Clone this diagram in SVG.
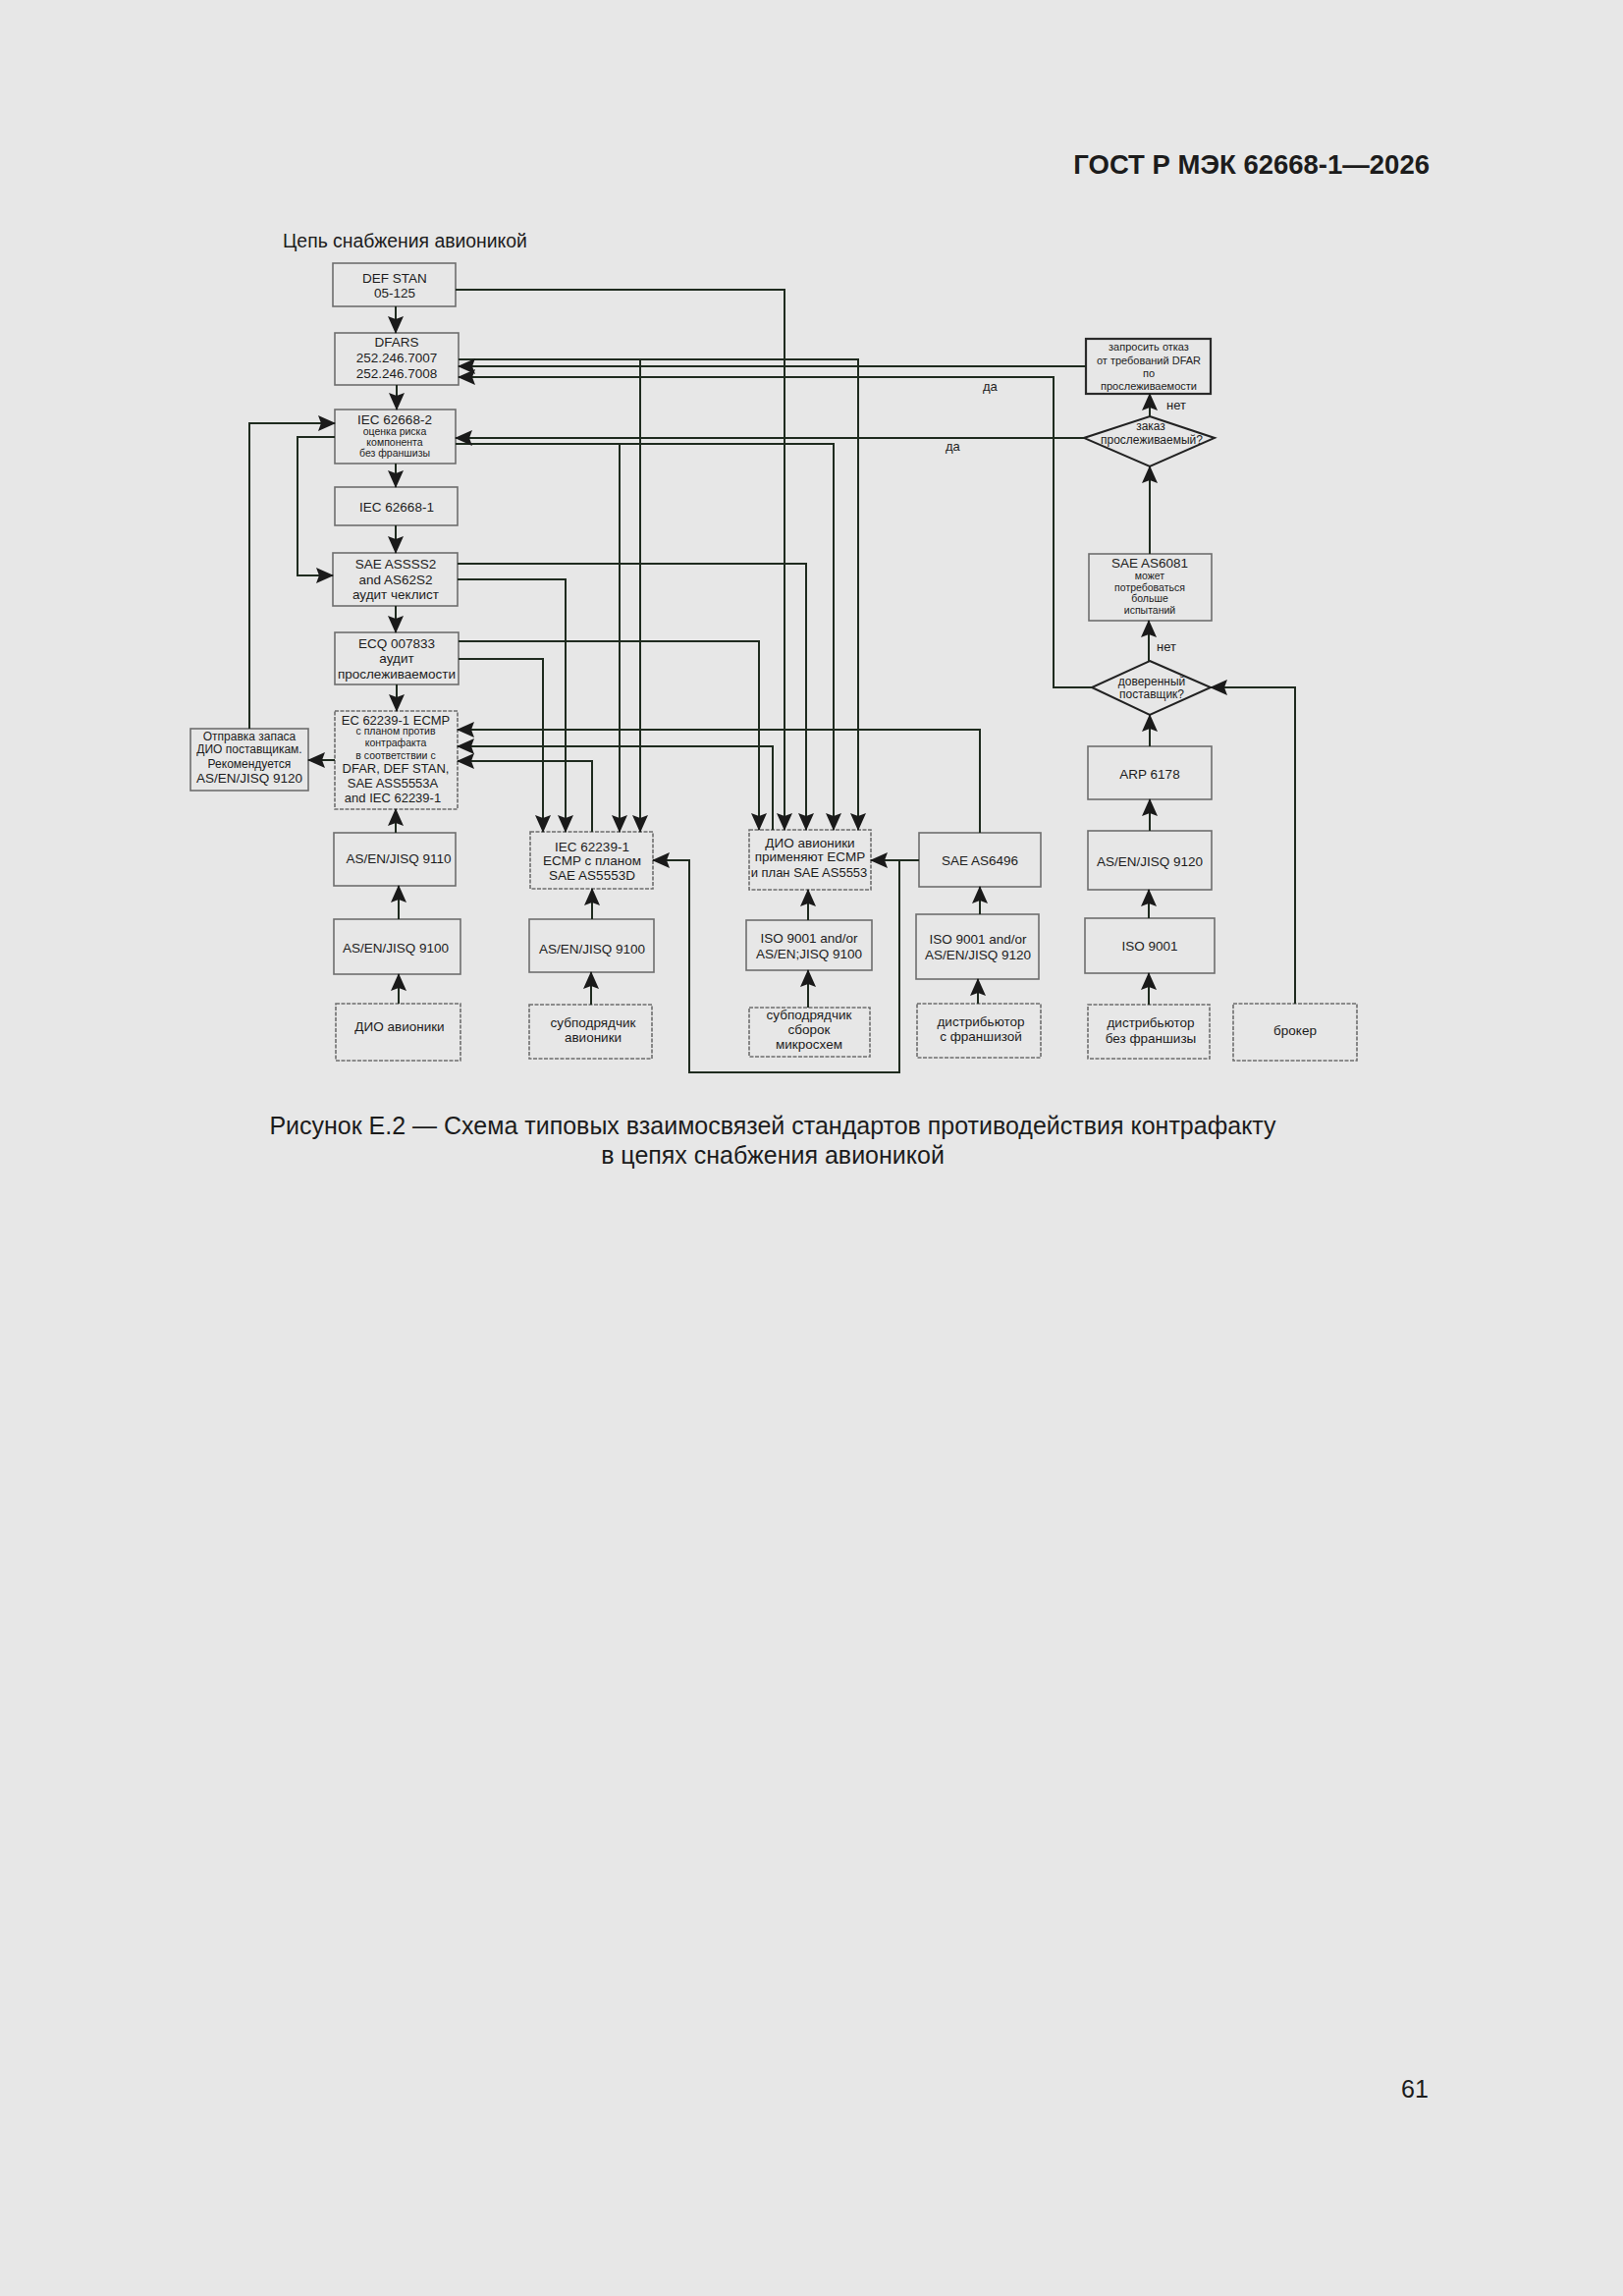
<svg xmlns="http://www.w3.org/2000/svg" width="1653" height="2338" viewBox="0 0 1653 2338">
<defs>
<marker id="ah" markerUnits="userSpaceOnUse" viewBox="0 0 18 16" markerWidth="18" markerHeight="16" refX="17" refY="8" orient="auto">
<path d="M0,0 L18,8 L0,16 L3,8 z" fill="#1a1a1a"/>
</marker>
<style>
.bx{fill:none;stroke:#6e6e6e;stroke-width:1.6}
.dt{fill:none;stroke:#6e6e6e;stroke-width:1.6;stroke-dasharray:4 1.5}
.bd{fill:none;stroke:#2a2a2a;stroke-width:2.2}
.dm{fill:none;stroke:#222;stroke-width:2}
.c path{fill:none;stroke:#1f2b1f;stroke-width:2;marker-end:url(#ah)}
.c path.n{marker-end:none}
text{font-family:"Liberation Sans",Arial,"Noto Sans",sans-serif;fill:#1c1c1c;text-anchor:middle}
.m{font-size:13.5px}
.s{font-size:10.5px}
.t{font-size:11px}
.d{font-size:12px}
.l{font-size:13px;text-anchor:start}
</style>
</defs>
<rect x="0" y="0" width="1653" height="2338" fill="#e7e7e7"/>

<text x="1456" y="177" style="font-size:27.5px;font-weight:bold;text-anchor:end">ГОСТ Р МЭК 62668-1—2026</text>
<text x="288" y="252" style="font-size:19.4px;text-anchor:start">Цепь снабжения авионикой</text>

<g id="n-defstan"><rect class="bx" x="339" y="268" width="125" height="44"/><text class="m" x="402" y="288">DEF STAN</text><text class="m" x="402" y="303">05-125</text></g>
<g id="n-dfars"><rect class="bx" x="341" y="339" width="126" height="53"/><text class="m" x="404" y="353">DFARS</text><text class="m" x="404" y="369">252.246.7007</text><text class="m" x="404" y="385">252.246.7008</text></g>
<g id="n-iec626682"><rect class="bx" x="341" y="417" width="123" height="55"/><text class="m" x="402" y="432">IEC 62668-2</text><text class="s" x="402" y="443">оценка риска</text><text class="s" x="402" y="454">компонента</text><text class="s" x="402" y="465">без франшизы</text></g>
<g id="n-iec626681"><rect class="bx" x="341" y="496" width="125" height="39"/><text class="m" x="404" y="521">IEC 62668-1</text></g>
<g id="n-sae"><rect class="bx" x="339" y="563" width="127" height="54"/><text class="m" x="403" y="579">SAE ASSSS2</text><text class="m" x="403" y="595">and AS62S2</text><text class="m" x="403" y="610">аудит чеклист</text></g>
<g id="n-ecq"><rect class="bx" x="341" y="644" width="126" height="53"/><text class="m" x="404" y="660">ECQ 007833</text><text class="m" x="404" y="675">аудит</text><text class="m" x="404" y="691">прослеживаемости</text></g>
<g id="n-ec62239"><rect class="dt" x="341" y="724" width="125" height="100"/><text class="m" x="403" y="738" style="font-size:13px">EC 62239-1 ECMP</text><text class="s" x="403" y="748">с планом против</text><text class="s" x="403" y="760">контрафакта</text><text class="s" x="403" y="773">в соответствии с</text><text class="m" x="403" y="787" style="font-size:13px">DFAR, DEF STAN,</text><text class="m" x="400" y="802" style="font-size:13px">SAE ASS5553A</text><text class="m" x="400" y="817" style="font-size:13px">and IEC 62239-1</text></g>
<g id="n-otpravka"><rect class="bx" x="194" y="742" width="120" height="63"/><text class="d" x="254" y="754">Отправка запаса</text><text class="d" x="254" y="767">ДИО поставщикам.</text><text class="d" x="254" y="782">Рекомендуется</text><text class="m" x="254" y="797">AS/EN/JISQ 9120</text></g>
<g id="n-9110"><rect class="bx" x="340" y="848" width="124" height="54"/><text class="m" x="406" y="879">AS/EN/JISQ 9110</text></g>
<g id="n-9100a"><rect class="bx" x="340" y="936" width="129" height="56"/><text class="m" x="403" y="970">AS/EN/JISQ 9100</text></g>
<g id="n-dio-bottom"><rect class="dt" x="342" y="1022" width="127" height="58"/><text class="m" x="407" y="1050">ДИО авионики</text></g>
<g id="n-iec622391"><rect class="dt" x="540" y="847" width="125" height="58"/><text class="m" x="603" y="867">IEC 62239-1</text><text class="m" x="603" y="881">ECMP с планом</text><text class="m" x="603" y="896">SAE AS5553D</text></g>
<g id="n-9100b"><rect class="bx" x="539" y="936" width="127" height="54"/><text class="m" x="603" y="971">AS/EN/JISQ 9100</text></g>
<g id="n-subav"><rect class="dt" x="539" y="1023" width="125" height="55"/><text class="m" x="604" y="1046">субподрядчик</text><text class="m" x="604" y="1061">авионики</text></g>
<g id="n-dio-ecmp"><rect class="dt" x="763" y="845" width="124" height="61"/><text class="m" x="825" y="863">ДИО авионики</text><text class="m" x="825" y="877">применяют ECMP</text><text class="m" x="824" y="893" style="font-size:13px">и план SAE AS5553</text></g>
<g id="n-iso9100"><rect class="bx" x="760" y="937" width="128" height="51"/><text class="m" x="824" y="960">ISO 9001 and/or</text><text class="m" x="824" y="976">AS/EN;JISQ 9100</text></g>
<g id="n-submc"><rect class="dt" x="763" y="1026" width="123" height="50"/><text class="m" x="824" y="1038">субподрядчик</text><text class="m" x="824" y="1053">сборок</text><text class="m" x="824" y="1068">микросхем</text></g>
<g id="n-as6496"><rect class="bx" x="936" y="848" width="124" height="55"/><text class="m" x="998" y="881">SAE AS6496</text></g>
<g id="n-iso9120"><rect class="bx" x="933" y="931" width="125" height="66"/><text class="m" x="996" y="961">ISO 9001 and/or</text><text class="m" x="996" y="977">AS/EN/JISQ 9120</text></g>
<g id="n-distf"><rect class="dt" x="934" y="1022" width="126" height="55"/><text class="m" x="999" y="1045">дистрибьютор</text><text class="m" x="999" y="1060">с франшизой</text></g>
<g id="n-zaprosit"><rect class="bd" x="1106" y="345" width="127" height="56"/><text class="t" x="1170" y="357">запросить отказ</text><text class="t" x="1170" y="371">от требований DFAR</text><text class="t" x="1170" y="384">по</text><text class="t" x="1170" y="397">прослеживаемости</text></g>
<g id="n-zakaz"><polygon class="dm" points="1171,424 1237,446 1171,475 1104,446"/><text class="d" x="1172" y="438">заказ</text><text class="d" x="1173" y="452">прослеживаемый?</text></g>
<g id="n-as6081"><rect class="bx" x="1109" y="564" width="125" height="68"/><text class="m" x="1171" y="578">SAE AS6081</text><text class="s" x="1171" y="590">может</text><text class="s" x="1171" y="602">потребоваться</text><text class="s" x="1171" y="613">больше</text><text class="s" x="1171" y="625">испытаний</text></g>
<g id="n-doveren"><polygon class="dm" points="1171,673 1233,700 1171,728 1112,700"/><text class="d" x="1173" y="698">доверенный</text><text class="d" x="1173" y="711">поставщик?</text></g>
<g id="n-arp"><rect class="bx" x="1108" y="760" width="126" height="54"/><text class="m" x="1171" y="793">ARP 6178</text></g>
<g id="n-9120"><rect class="bx" x="1108" y="846" width="126" height="60"/><text class="m" x="1171" y="882">AS/EN/JISQ 9120</text></g>
<g id="n-iso9001"><rect class="bx" x="1105" y="935" width="132" height="56"/><text class="m" x="1171" y="968">ISO 9001</text></g>
<g id="n-distnf"><rect class="dt" x="1108" y="1023" width="124" height="55"/><text class="m" x="1172" y="1046">дистрибьютор</text><text class="m" x="1172" y="1062">без франшизы</text></g>
<g id="n-broker"><rect class="dt" x="1256" y="1022" width="126" height="58"/><text class="m" x="1319" y="1054">брокер</text></g>

<g id="connectors" class="c">
<path d="M403,312 V339"/>
<path d="M404,392 V417"/>
<path d="M403,472 V496"/>
<path d="M403,535 V563"/>
<path d="M403,617 V644"/>
<path d="M404,697 V724"/>
<path d="M403,848 V824"/>
<path d="M406,936 V902"/>
<path d="M406,1022 V992"/>
<path d="M341,774 H314"/>
<path d="M254,742 V431 H341"/>
<path d="M341,445 H303 V586 H339"/>
<path d="M464,295 H799 V845"/>
<path d="M467,366 H874 V845"/>
<path d="M652,366 V847"/>
<path d="M464,452 H849 V845"/>
<path d="M631,452 V847"/>
<path d="M466,574 H821 V845"/>
<path d="M466,590 H576 V847"/>
<path d="M467,653 H773 V845"/>
<path d="M467,671 H553 V847"/>
<path d="M998,848 V743 H466"/>
<path d="M787,845 V760 H466"/>
<path d="M603,847 V775 H466"/>
<path d="M603,936 V905"/>
<path d="M602,1023 V990"/>
<path d="M936,876 H887"/>
<path d="M916,876 V1092 H702 V876 H665"/>
<path d="M823,937 V906"/>
<path d="M823,1026 V988"/>
<path d="M998,931 V903"/>
<path d="M996,1022 V997"/>
<path d="M1106,373 H467"/>
<path d="M1112,700 H1073 V384 H467"/>
<path d="M1104,446 H464"/>
<path d="M1171,424 V401"/>
<path d="M1171,564 V475"/>
<path d="M1170,673 V632"/>
<path d="M1171,760 V728"/>
<path d="M1171,846 V814"/>
<path d="M1170,935 V906"/>
<path d="M1170,1023 V991"/>
<path d="M1319,1022 V700 H1233"/>
</g>

<g id="labels">
<text class="l" x="1001" y="398">да</text>
<text class="l" x="963" y="459">да</text>
<text class="l" x="1188" y="417">нет</text>
<text class="l" x="1178" y="663">нет</text>
</g>

<text x="787" y="1155" style="font-size:25px">Рисунок Е.2 — Схема типовых взаимосвязей стандартов противодействия контрафакту</text>
<text x="787" y="1185" style="font-size:25px">в цепях снабжения авионикой</text>
<text x="1441" y="2136" style="font-size:25px">61</text>
</svg>
